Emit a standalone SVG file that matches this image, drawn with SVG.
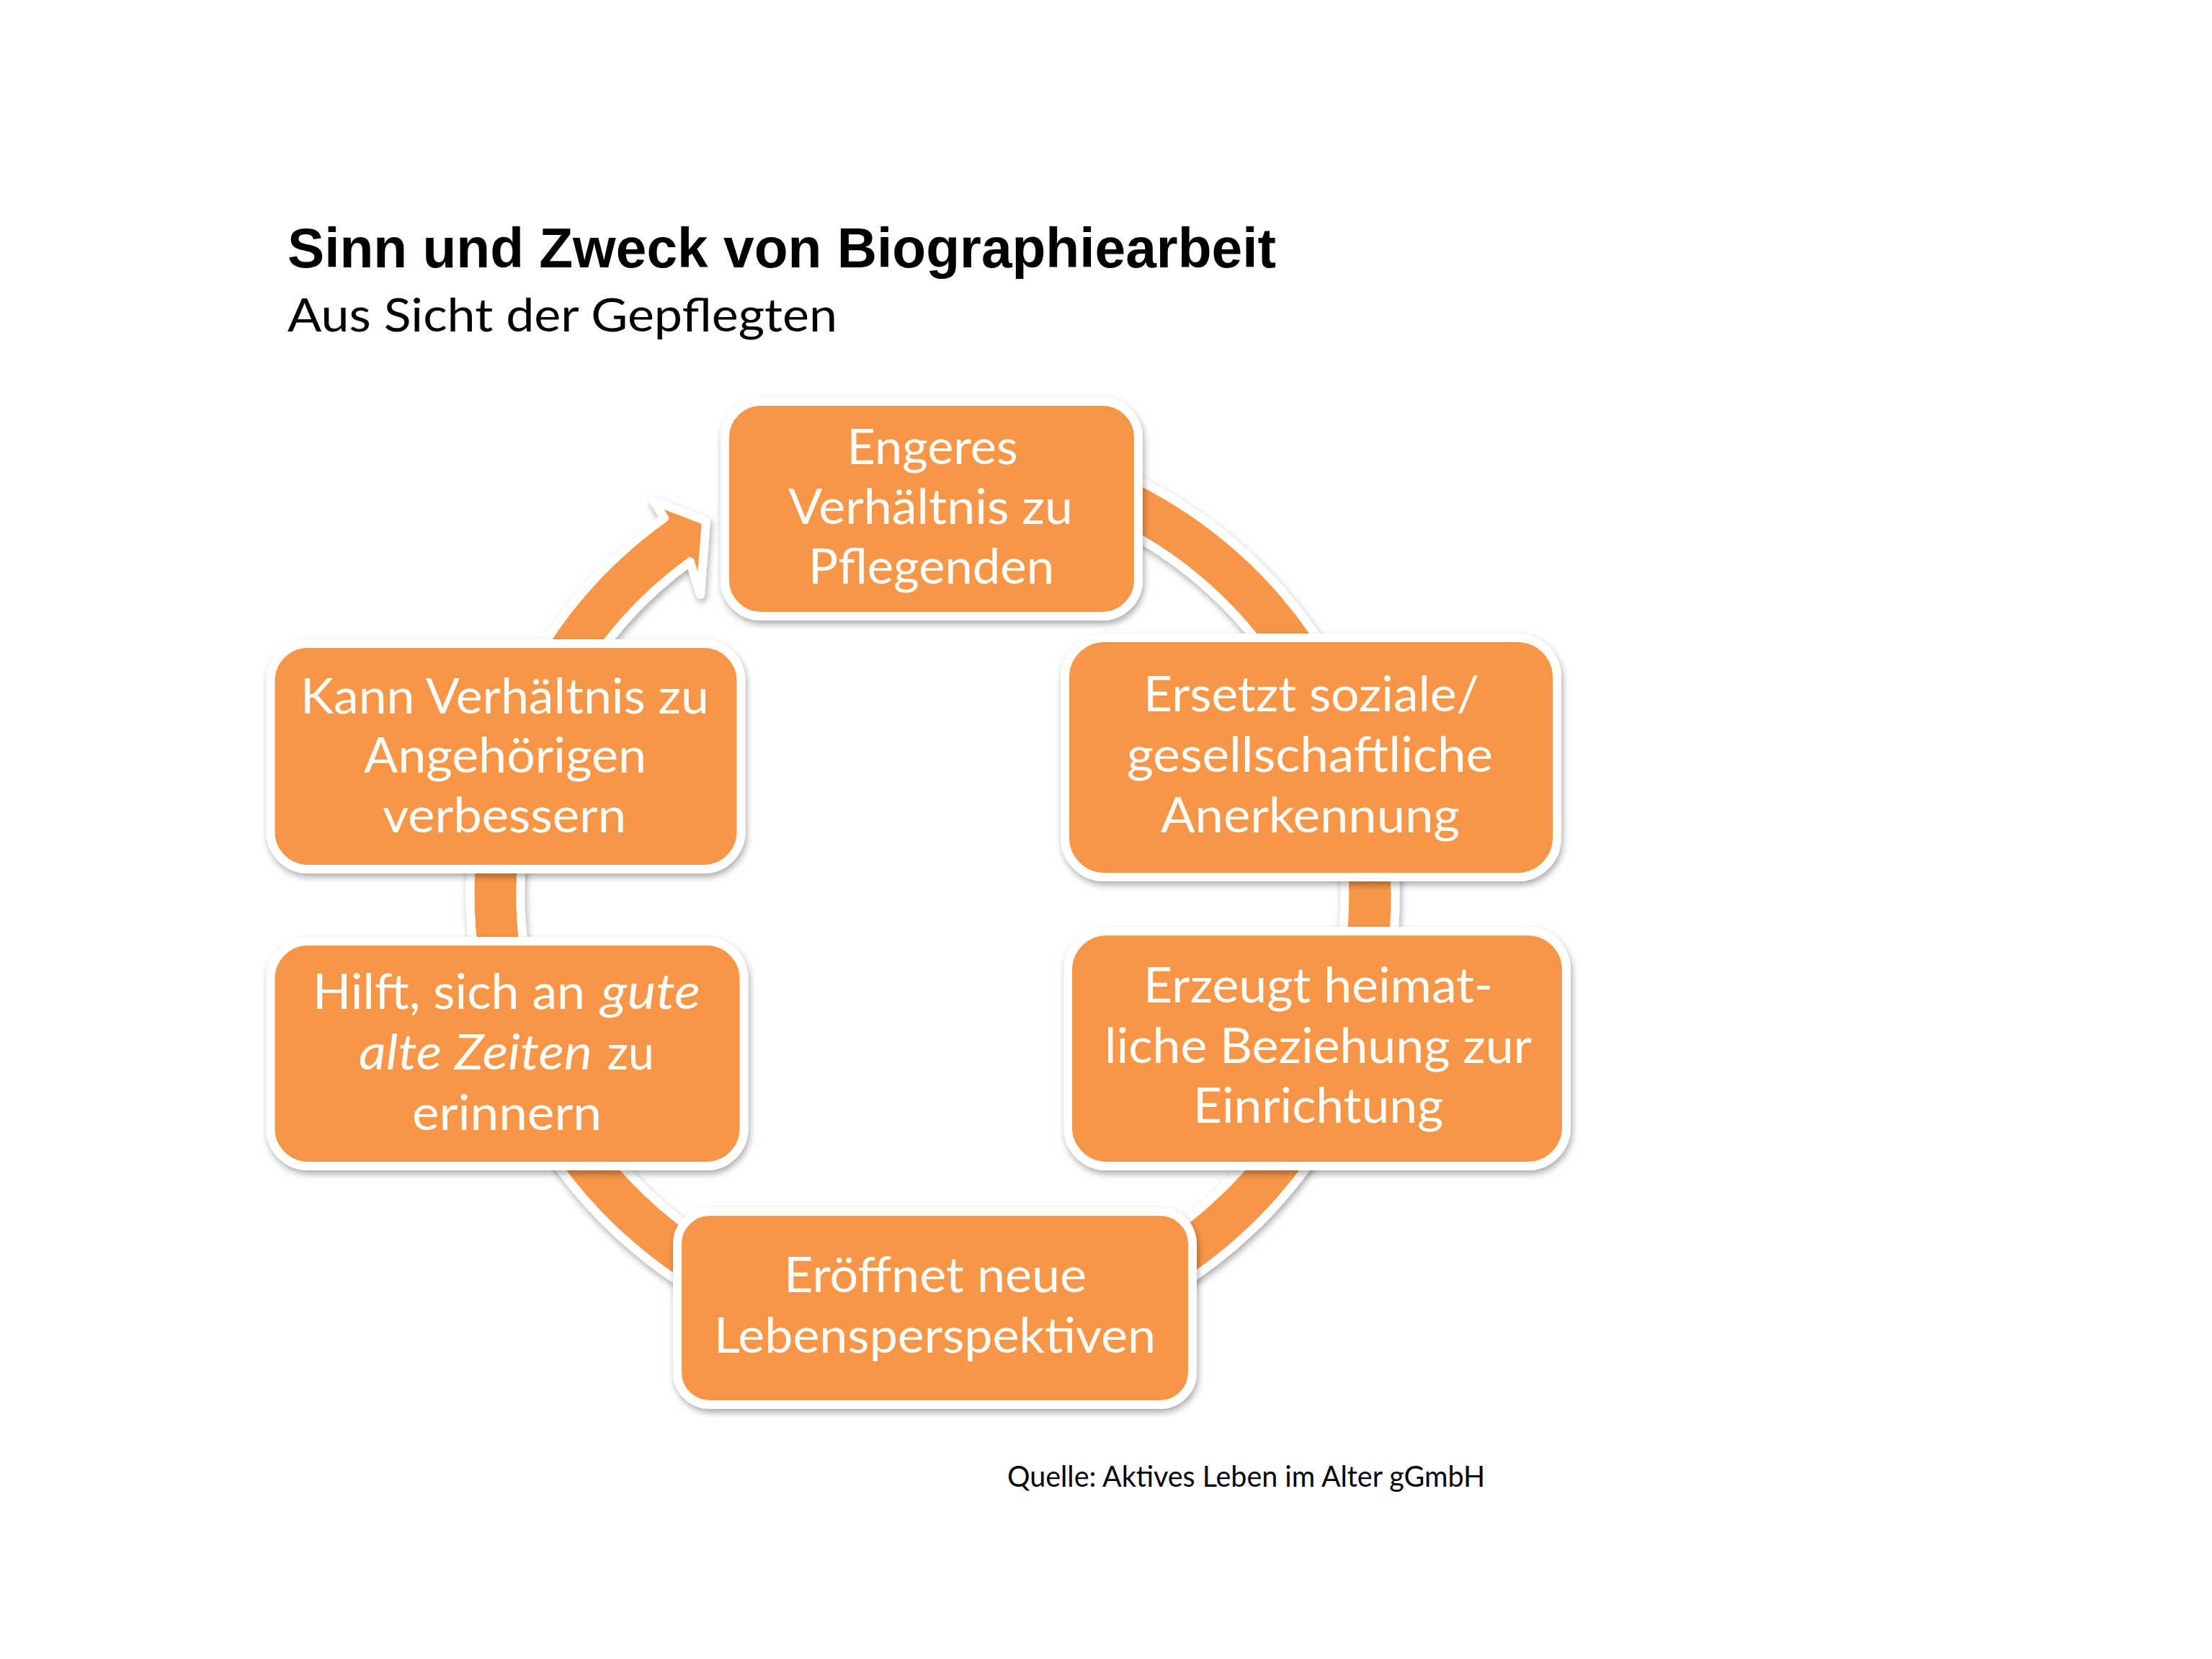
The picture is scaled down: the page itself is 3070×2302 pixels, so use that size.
<svg xmlns="http://www.w3.org/2000/svg" width="3070" height="2302" viewBox="0 0 3070 2302">
<defs>
<filter id="sh" x="-10%" y="-10%" width="120%" height="130%">
<feDropShadow dx="2" dy="5" stdDeviation="5" flood-color="#000" flood-opacity="0.33"/>
</filter>
<style>
.box{fill:#F79646;stroke:#FFFFFF;stroke-width:12;filter:url(#sh);}
.arc{fill:#F79646;stroke:#FFFFFF;stroke-width:12;stroke-linejoin:round;filter:url(#sh);}
.t{font-family:Lato,"Open Sans","DejaVu Sans",sans-serif;font-size:67px;fill:#FFFFFF;}
.i{font-style:italic;}
.title{font-family:"Liberation Sans",Arial,sans-serif;font-weight:bold;font-size:77px;fill:#000;}
.sub{font-family:Lato,"Open Sans",sans-serif;font-size:64px;fill:#000;}
.src{font-family:Lato,"Open Sans",sans-serif;font-size:40px;fill:#000;}
</style>
</defs>
<rect width="3070" height="2302" fill="#FFFFFF"/>
<g id="header">
<text class="title" x="399" y="371" textLength="1372" lengthAdjust="spacingAndGlyphs">Sinn und Zweck von Biographiearbeit</text>
<text class="sub" x="399" y="460" textLength="763" lengthAdjust="spacingAndGlyphs">Aus Sicht der Gepflegten</text>
</g>
<g id="connectors">
<path class="arc" d="M 1350 602 A 642 642 0 1 1 922.1 718.7 L 907 695 L 980 723 L 972 825 L 957.8 779.3 A 572 572 0 1 0 1344 672 Z"/>
</g>
<g id="node-top">
<rect class="box" x="1006" y="557" width="574" height="298" rx="50" ry="50"/>
<text class="t" x="1175.5" y="644" textLength="237" lengthAdjust="spacingAndGlyphs">Engeres</text>
<text class="t" x="1094" y="727" textLength="395" lengthAdjust="spacingAndGlyphs">Verhältnis zu</text>
<text class="t" x="1122" y="810" textLength="341" lengthAdjust="spacingAndGlyphs">Pflegenden</text>
</g>
<g id="node-right1">
<rect class="box" x="1478" y="885" width="683" height="332" rx="55" ry="55"/>
<text class="t" x="1587" y="987" textLength="466" lengthAdjust="spacingAndGlyphs">Ersetzt soziale/</text>
<text class="t" x="1564" y="1071" textLength="508" lengthAdjust="spacingAndGlyphs">gesellschaftliche</text>
<text class="t" x="1611" y="1155" textLength="415" lengthAdjust="spacingAndGlyphs">Anerkennung</text>
</g>
<g id="node-right2">
<rect class="box" x="1482" y="1292" width="692" height="326" rx="54" ry="54"/>
<text class="t" x="1587" y="1391" textLength="485" lengthAdjust="spacingAndGlyphs">Erzeugt heimat-</text>
<text class="t" x="1533" y="1475" textLength="593" lengthAdjust="spacingAndGlyphs">liche Beziehung zur</text>
<text class="t" x="1656" y="1558" textLength="347" lengthAdjust="spacingAndGlyphs">Einrichtung</text>
</g>
<g id="node-bottom">
<rect class="box" x="940" y="1681" width="715" height="268" rx="45" ry="45"/>
<text class="t" x="1088" y="1793" textLength="420" lengthAdjust="spacingAndGlyphs">Eröffnet neue</text>
<text class="t" x="991" y="1877" textLength="613" lengthAdjust="spacingAndGlyphs">Lebensperspektiven</text>
</g>
<g id="node-left2">
<rect class="box" x="375.5" y="1306" width="657" height="312" rx="52" ry="52"/>
<text class="t" x="434" y="1400" textLength="378" lengthAdjust="spacingAndGlyphs">Hilft, sich an</text>
<text class="t i" x="834" y="1400" textLength="138" lengthAdjust="spacingAndGlyphs">gute</text>
<text class="t i" x="498" y="1484" textLength="324" lengthAdjust="spacingAndGlyphs">alte Zeiten</text>
<text class="t" x="842.5" y="1484" textLength="65.5" lengthAdjust="spacingAndGlyphs">zu</text>
<text class="t" x="572" y="1567.5" textLength="263" lengthAdjust="spacingAndGlyphs">erinnern</text>
</g>
<g id="node-left1">
<rect class="box" x="375.5" y="893" width="653" height="313" rx="52" ry="52"/>
<text class="t" x="417" y="989.5" textLength="567" lengthAdjust="spacingAndGlyphs">Kann Verhältnis zu</text>
<text class="t" x="505" y="1071.6" textLength="392" lengthAdjust="spacingAndGlyphs">Angehörigen</text>
<text class="t" x="531" y="1155.3" textLength="338" lengthAdjust="spacingAndGlyphs">verbessern</text>
</g>
<g id="source">
<text class="src" x="1398" y="2063" textLength="663" lengthAdjust="spacingAndGlyphs">Quelle: Aktives Leben im Alter gGmbH</text>
</g>
</svg>
